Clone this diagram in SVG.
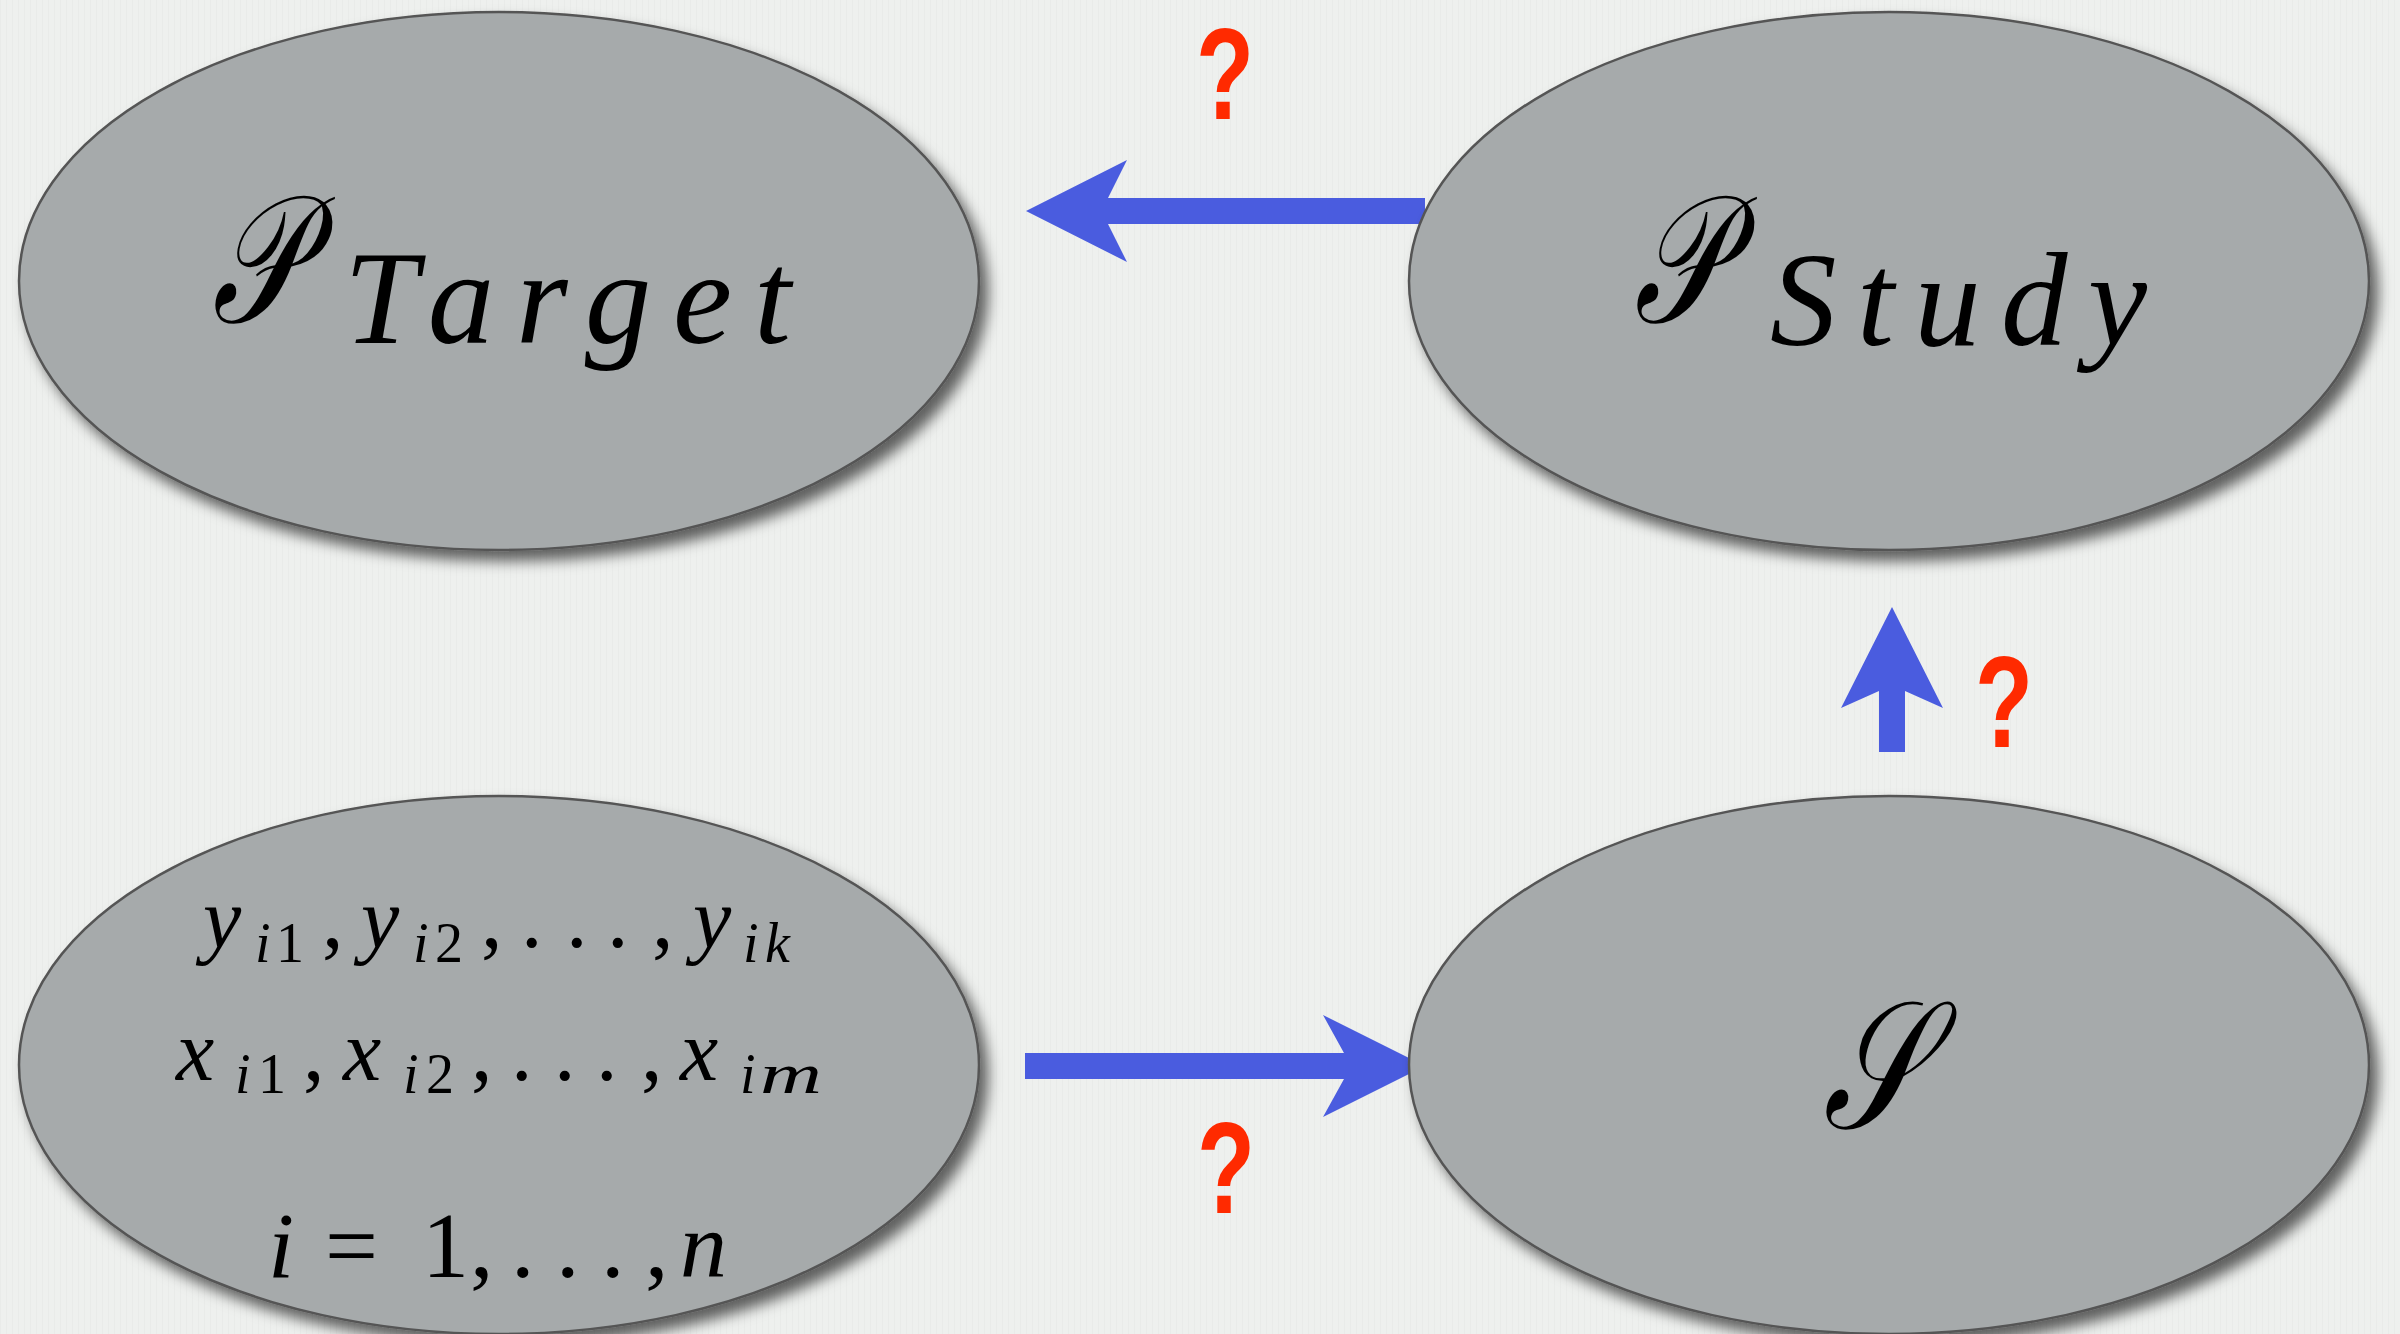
<svg xmlns="http://www.w3.org/2000/svg" width="2400" height="1334" viewBox="0 0 2400 1334">
<defs>
<style>
.bg{fill:#eef0ee}
.node{fill:#a6aaab;stroke:#555;stroke-width:2.5;filter:url(#shadow)}
.arrow{fill:#4a5cdf}
.q{fill:#ff2a00;font-family:"Liberation Sans",Arial,sans-serif;font-weight:700;font-size:130px;text-anchor:middle}
.cal{font-family:"DejaVu Serif","Liberation Serif",serif;font-style:italic;fill:#000}
.it{font-family:"Liberation Serif","Times New Roman",serif;font-style:italic;fill:#000}
.rm{font-family:"Liberation Serif","Times New Roman",serif;fill:#000}
.m{font-size:86px}
.s{font-size:56px}
.l3{font-size:94px}
.sub{font-size:133px}
</style>
<filter id="shadow" x="-10%" y="-10%" width="125%" height="130%">
<feDropShadow dx="8" dy="10" stdDeviation="7" flood-color="#000" flood-opacity="0.6"/>
</filter>
<pattern id="stripes" width="6" height="40" patternUnits="userSpaceOnUse">
<rect width="6" height="40" fill="#eef0ee"/>
<rect width="1" height="40" fill="#e6e8e6"/>
</pattern>
</defs>
<rect class="bg" x="0" y="0" width="2400" height="1334"/>
<rect x="0" y="0" width="2400" height="1334" fill="url(#stripes)" opacity="0.6"/>

<g id="connectors">
<polygon id="arrow-study-target" class="arrow" points="1026,211 1127,160 1108,198 1425,198 1425,224 1108,224 1127,262"/>
<polygon id="arrow-data-s" class="arrow" points="1425,1066 1323,1015 1344,1053 1025,1053 1025,1079 1344,1079 1323,1117"/>
<polygon id="arrow-s-study" class="arrow" points="1892,607 1943,708 1905,691 1905,752 1879,752 1879,691 1841,708"/>
<text class="q" x="1225" y="119" textLength="58" lengthAdjust="spacingAndGlyphs">?</text>
<text class="q" x="2004" y="747" textLength="58" lengthAdjust="spacingAndGlyphs">?</text>
<text class="q" x="1226" y="1213" textLength="58" lengthAdjust="spacingAndGlyphs">?</text>
</g>

<g id="node-target">
<ellipse class="node" cx="499" cy="281" rx="480" ry="269"/>
<text class="cal" transform="translate(212,322) scale(0.7,1)" x="0" y="0" font-size="180">𝒫</text>
<text class="it sub" x="344" y="343" textLength="447" lengthAdjust="spacing">Target</text>
</g>

<g id="node-study">
<ellipse class="node" cx="1889" cy="281" rx="480" ry="269"/>
<text class="cal" transform="translate(1634,322) scale(0.7,1)" x="0" y="0" font-size="180">𝒫</text>
<text class="it sub" x="1770" y="345" textLength="377" lengthAdjust="spacing">Study</text>
</g>

<g id="node-data">
<ellipse class="node" cx="499" cy="1065" rx="480" ry="269"/>
<text class="m"><tspan class="it" x="203" y="947">y</tspan><tspan class="it s" x="255" y="962">i</tspan><tspan class="rm s" x="276" y="962">1</tspan><tspan class="rm" x="322" y="947">,</tspan><tspan class="it" x="361" y="947">y</tspan><tspan class="it s" x="413" y="962">i</tspan><tspan class="rm s" x="435" y="962">2</tspan><tspan class="rm" x="481" y="947">,</tspan><tspan class="rm" x="521" y="947">.</tspan><tspan class="rm" x="566" y="947">.</tspan><tspan class="rm" x="607" y="947">.</tspan><tspan class="rm" x="652" y="947">,</tspan><tspan class="it" x="693" y="947">y</tspan><tspan class="it s" x="743" y="962">i</tspan><tspan class="it s" x="765" y="962">k</tspan></text>
<text class="m"><tspan class="it" x="176" y="1080">x</tspan><tspan class="it s" x="235" y="1093">i</tspan><tspan class="rm s" x="258" y="1093">1</tspan><tspan class="rm" x="303" y="1080">,</tspan><tspan class="it" x="343" y="1080">x</tspan><tspan class="it s" x="403" y="1093">i</tspan><tspan class="rm s" x="426" y="1093">2</tspan><tspan class="rm" x="471" y="1080">,</tspan><tspan class="rm" x="511" y="1080">.</tspan><tspan class="rm" x="554" y="1080">.</tspan><tspan class="rm" x="596" y="1080">.</tspan><tspan class="rm" x="641" y="1080">,</tspan><tspan class="it" x="680" y="1080">x</tspan><tspan class="it s" x="740" y="1093">i</tspan><tspan class="it s" x="760" y="1093" textLength="62" lengthAdjust="spacingAndGlyphs">m</tspan></text>
<text class="l3"><tspan class="it" x="268" y="1277">i</tspan><tspan class="rm" x="325" y="1277">=</tspan><tspan class="rm" x="422" y="1277">1</tspan><tspan class="rm" x="470" y="1277">,</tspan><tspan class="rm" x="511" y="1277">.</tspan><tspan class="rm" x="556" y="1277">.</tspan><tspan class="rm" x="601" y="1277">.</tspan><tspan class="rm" x="645" y="1277">,</tspan><tspan class="it" x="680" y="1277">n</tspan></text>
</g>

<g id="node-s">
<ellipse class="node" cx="1889" cy="1065" rx="480" ry="269"/>
<text class="cal" transform="translate(1874,1128) scale(0.73,1)" x="0" y="0" font-size="180" text-anchor="middle">𝒮</text>
</g>
</svg>
